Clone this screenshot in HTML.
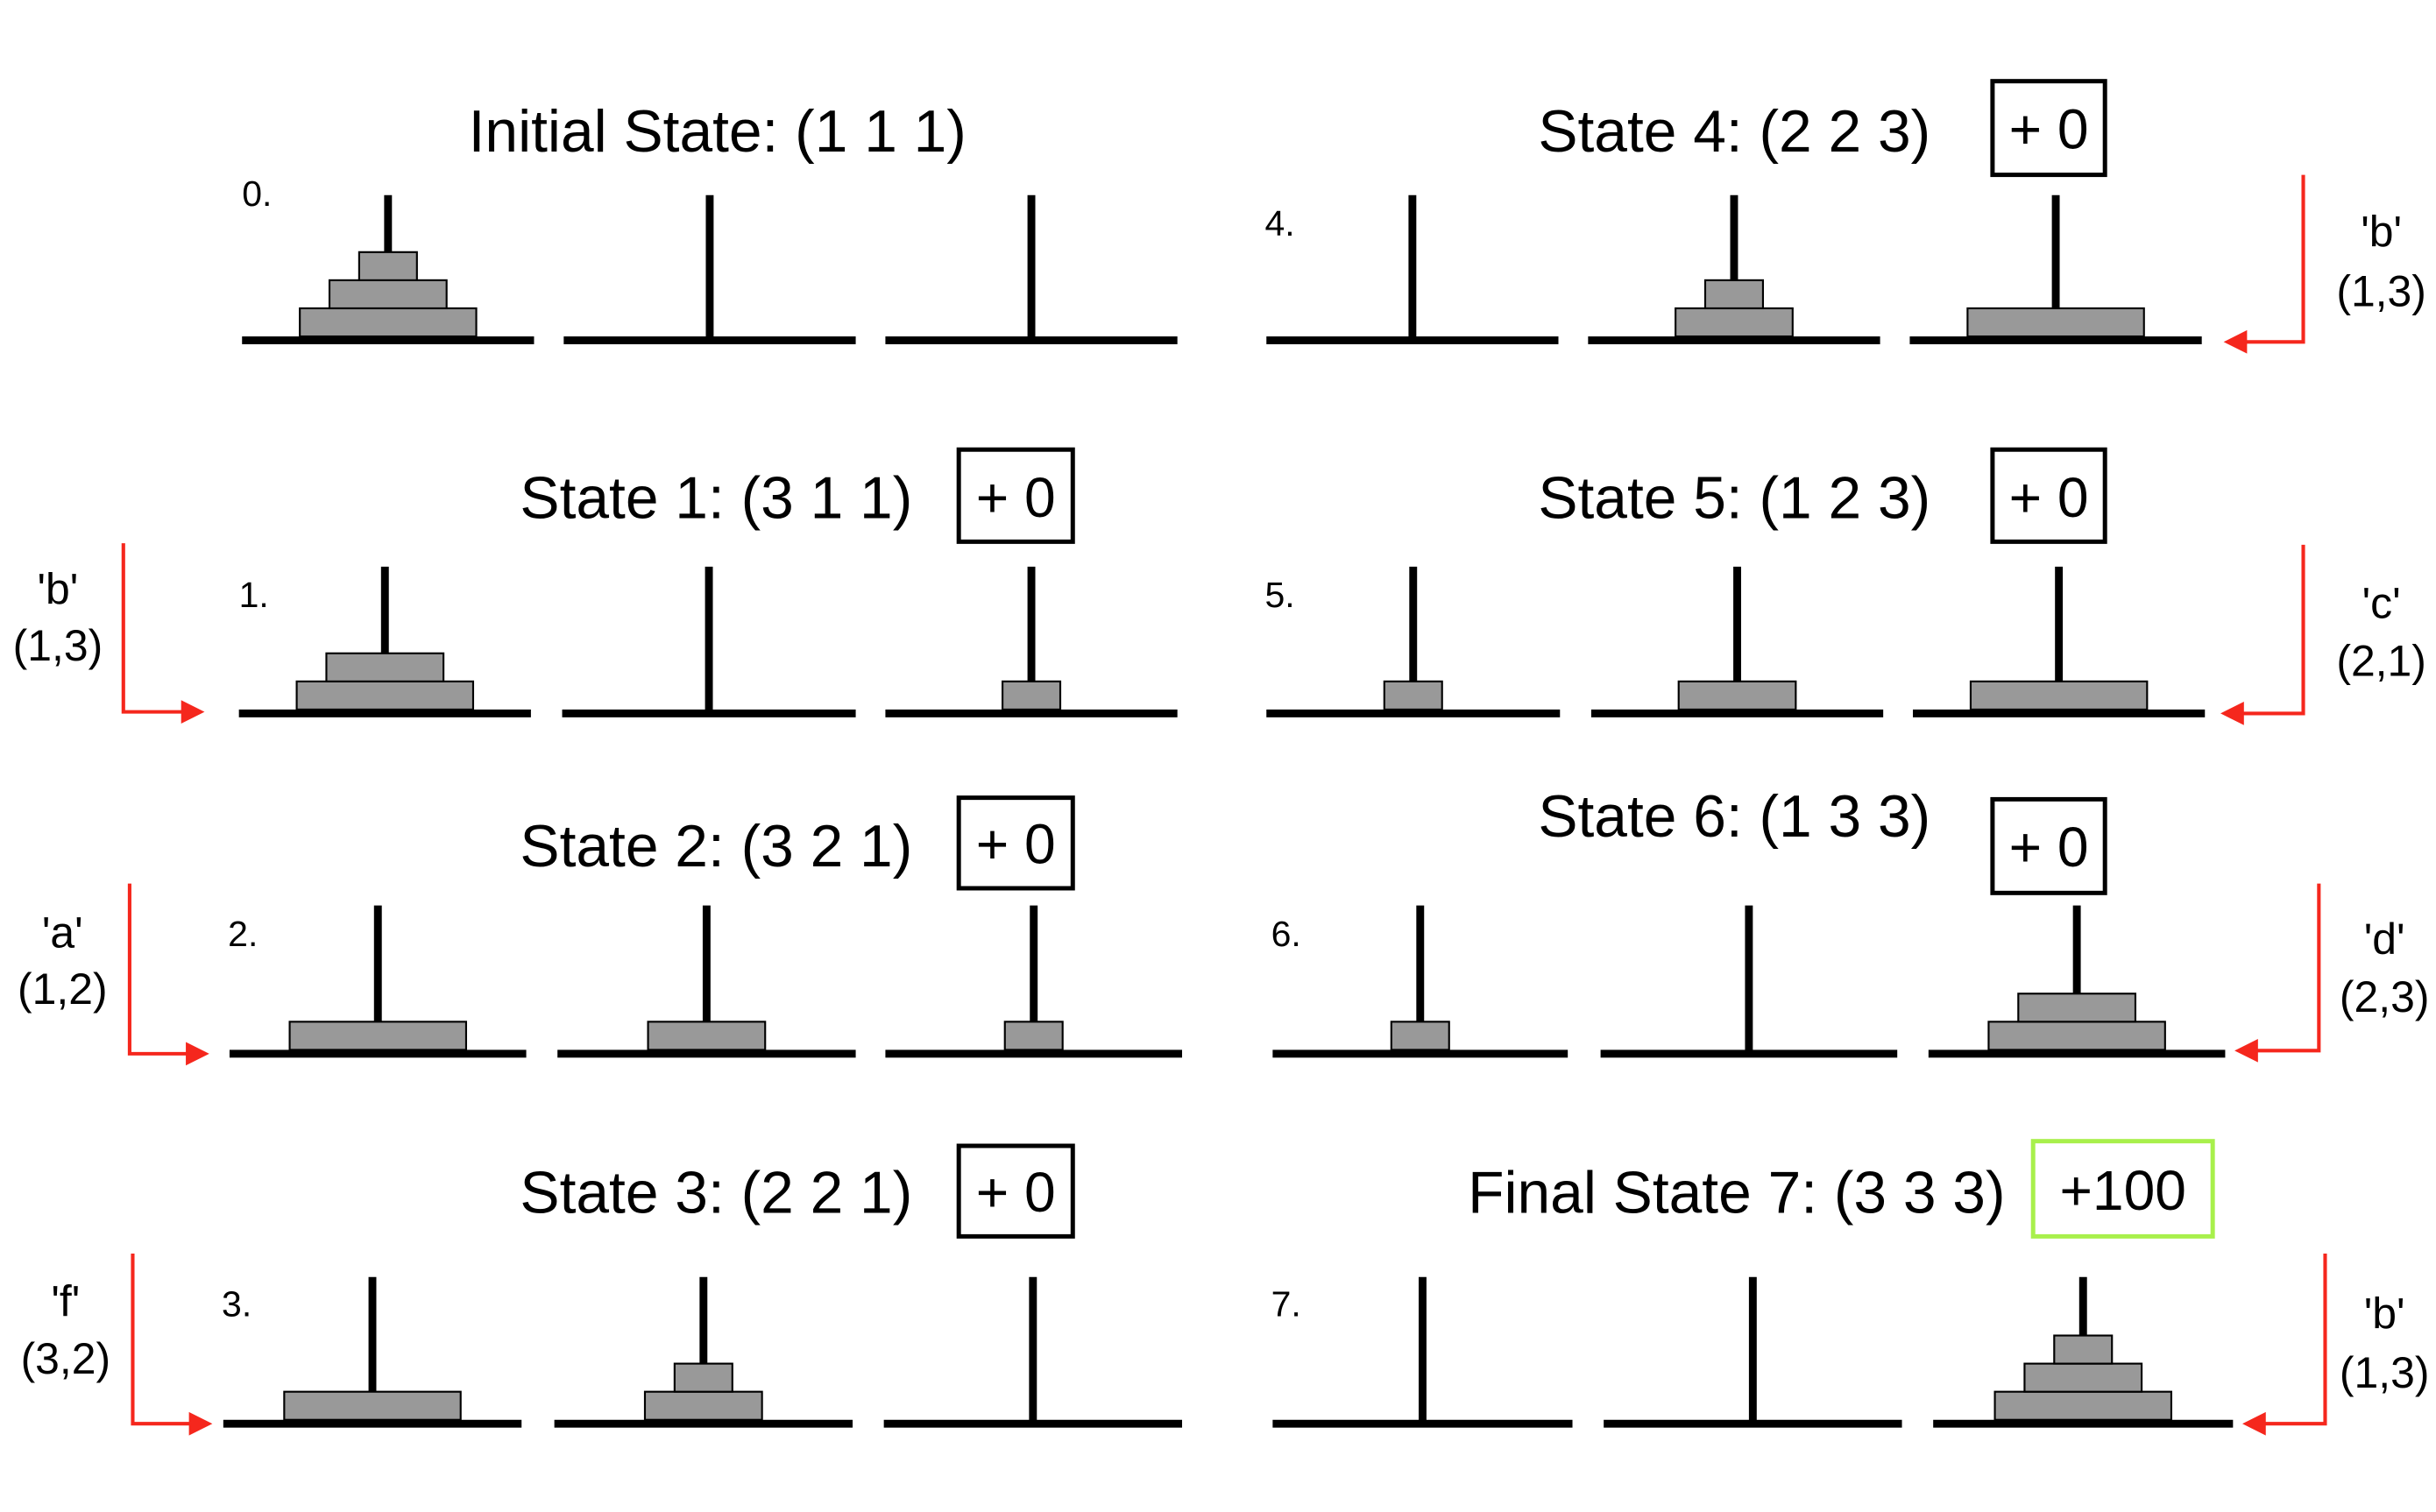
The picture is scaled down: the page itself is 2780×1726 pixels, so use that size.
<!DOCTYPE html>
<html><head><meta charset="utf-8"><style>html,body{margin:0;padding:0;background:#fff}svg{display:block}</style></head>
<body>
<svg xmlns="http://www.w3.org/2000/svg" width="2780" height="1726" viewBox="0 0 1560 968.55" font-family="Liberation Sans, sans-serif">
<rect width="1560" height="968.55" fill="#fff"/>
<g stroke="#000" stroke-width="5">
<line x1="248.5" y1="125" x2="248.5" y2="216"/><line x1="454.5" y1="125" x2="454.5" y2="216"/><line x1="660.5" y1="125" x2="660.5" y2="216"/>
<line x1="246.5" y1="363" x2="246.5" y2="455"/><line x1="454" y1="363" x2="454" y2="455"/><line x1="660.5" y1="363" x2="660.5" y2="455"/>
<line x1="242" y1="580" x2="242" y2="673"/><line x1="452.5" y1="580" x2="452.5" y2="673"/><line x1="662" y1="580" x2="662" y2="673"/>
<line x1="238.5" y1="818" x2="238.5" y2="910"/><line x1="450.5" y1="818" x2="450.5" y2="910"/><line x1="661.5" y1="818" x2="661.5" y2="910"/>
<line x1="904.5" y1="125" x2="904.5" y2="216"/><line x1="1110.5" y1="125" x2="1110.5" y2="216"/><line x1="1316.5" y1="125" x2="1316.5" y2="216"/>
<line x1="905" y1="363" x2="905" y2="455"/><line x1="1112.5" y1="363" x2="1112.5" y2="455"/><line x1="1318.5" y1="363" x2="1318.5" y2="455"/>
<line x1="909.5" y1="580" x2="909.5" y2="673"/><line x1="1120" y1="580" x2="1120" y2="673"/><line x1="1330" y1="580" x2="1330" y2="673"/>
<line x1="911" y1="818" x2="911" y2="910"/><line x1="1122.5" y1="818" x2="1122.5" y2="910"/><line x1="1334" y1="818" x2="1334" y2="910"/>
</g>
<g fill="#999" stroke="#000" stroke-width="1.2">
<rect x="192" y="197.5" width="113" height="18"/><rect x="211" y="179.5" width="75" height="18"/><rect x="230" y="161.5" width="37" height="18"/>
<rect x="190" y="436.5" width="113" height="18"/><rect x="209" y="418.5" width="75" height="18"/><rect x="642" y="436.5" width="37" height="18"/>
<rect x="185.5" y="654.5" width="113" height="18"/><rect x="415" y="654.5" width="75" height="18"/><rect x="643.5" y="654.5" width="37" height="18"/>
<rect x="182" y="891.5" width="113" height="18"/><rect x="413" y="891.5" width="75" height="18"/><rect x="432" y="873.5" width="37" height="18"/>
<rect x="1073" y="197.5" width="75" height="18"/><rect x="1092" y="179.5" width="37" height="18"/><rect x="1260" y="197.5" width="113" height="18"/>
<rect x="886.5" y="436.5" width="37" height="18"/><rect x="1075" y="436.5" width="75" height="18"/><rect x="1262" y="436.5" width="113" height="18"/>
<rect x="891" y="654.5" width="37" height="18"/><rect x="1273.5" y="654.5" width="113" height="18"/><rect x="1292.5" y="636.5" width="75" height="18"/>
<rect x="1277.5" y="891.5" width="113" height="18"/><rect x="1296.5" y="873.5" width="75" height="18"/><rect x="1315.5" y="855.5" width="37" height="18"/>
</g>
<g fill="#000">
<rect x="155" y="215.5" width="187" height="5"/><rect x="361" y="215.5" width="187" height="5"/><rect x="567" y="215.5" width="187" height="5"/>
<rect x="153" y="454.5" width="187" height="5"/><rect x="360" y="454.5" width="188" height="5"/><rect x="567" y="454.5" width="187" height="5"/>
<rect x="147" y="672.5" width="190" height="5"/><rect x="357" y="672.5" width="191" height="5"/><rect x="567" y="672.5" width="190" height="5"/>
<rect x="143" y="909.5" width="191" height="5"/><rect x="355" y="909.5" width="191" height="5"/><rect x="566" y="909.5" width="191" height="5"/>
<rect x="811" y="215.5" width="187" height="5"/><rect x="1017" y="215.5" width="187" height="5"/><rect x="1223" y="215.5" width="187" height="5"/>
<rect x="811" y="454.5" width="188" height="5"/><rect x="1019" y="454.5" width="187" height="5"/><rect x="1225" y="454.5" width="187" height="5"/>
<rect x="815" y="672.5" width="189" height="5"/><rect x="1025" y="672.5" width="190" height="5"/><rect x="1235" y="672.5" width="190" height="5"/>
<rect x="815" y="909.5" width="192" height="5"/><rect x="1027" y="909.5" width="191" height="5"/><rect x="1238" y="909.5" width="192" height="5"/>
</g>
<g font-size="38" fill="#000">
<text x="300" y="97">Initial State: (1 1 1)</text>
<text x="333" y="332">State 1: (3 1 1)</text>
<text x="333" y="555">State 2: (3 2 1)</text>
<text x="333" y="777">State 3: (2 2 1)</text>
<text x="985" y="97">State 4: (2 2 3)</text>
<text x="985" y="332">State 5: (1 2 3)</text>
<text x="985" y="536">State 6: (1 3 3)</text>
<text x="940" y="777">Final State 7: (3 3 3)</text>
</g>
<g fill="none" stroke="#000" stroke-width="2.8">
<rect x="614" y="288" width="73" height="59"/>
<rect x="614" y="511" width="73" height="58"/>
<rect x="614" y="734" width="73" height="58"/>
<rect x="1276" y="52" width="72" height="60"/>
<rect x="1276" y="288" width="72" height="59"/>
<rect x="1276" y="512" width="72" height="60"/>
</g>
<rect x="1302" y="731" width="115" height="61" fill="none" stroke="#a8f04c" stroke-width="2.8"/>
<g font-size="36" fill="#000" text-anchor="middle">
<text x="650.5" y="331">+ 0</text>
<text x="650.5" y="553">+ 0</text>
<text x="650.5" y="776">+ 0</text>
<text x="1312" y="95">+ 0</text>
<text x="1312" y="331">+ 0</text>
<text x="1312" y="555">+ 0</text>
<text x="1359.5" y="775">+100</text>
</g>
<g font-size="23" fill="#000">
<text x="155" y="132">0.</text>
<text x="153" y="389">1.</text>
<text x="146" y="606">2.</text>
<text x="142" y="843">3.</text>
<text x="810" y="151">4.</text>
<text x="810" y="389">5.</text>
<text x="814" y="606">6.</text>
<text x="814" y="843">7.</text>
</g>
<g fill="none" stroke="#f5271d" stroke-width="2.3">
<polyline points="79,348 79,456 118,456"/>
<polyline points="83,566 83,675 121,675"/>
<polyline points="85,803 85,912 123,912"/>
<polyline points="1475,112 1475,219 1437,219"/>
<polyline points="1475,349 1475,457 1435,457"/>
<polyline points="1485,566 1485,673 1444,673"/>
<polyline points="1489,803 1489,912 1449,912"/>
</g>
<g fill="#f5271d">
<polygon points="131,456 116,448.5 116,463.5"/>
<polygon points="134,675 119,667.5 119,682.5"/>
<polygon points="136,912 121,904.5 121,919.5"/>
<polygon points="1424,219 1439,211.5 1439,226.5"/>
<polygon points="1422,457 1437,449.5 1437,464.5"/>
<polygon points="1431,673 1446,665.5 1446,680.5"/>
<polygon points="1436,912 1451,904.5 1451,919.5"/>
</g>
<g font-size="28" fill="#000" text-anchor="middle">
<text x="37" y="387">'b'</text><text x="37" y="423">(1,3)</text>
<text x="40" y="607">'a'</text><text x="40" y="643">(1,2)</text>
<text x="42" y="843">'f'</text><text x="42" y="880">(3,2)</text>
<text x="1525" y="158">'b'</text><text x="1525" y="196">(1,3)</text>
<text x="1525" y="396">'c'</text><text x="1525" y="433">(2,1)</text>
<text x="1527" y="611">'d'</text><text x="1527" y="648">(2,3)</text>
<text x="1527" y="851">'b'</text><text x="1527" y="889">(1,3)</text>
</g>
</svg>
</body></html>
